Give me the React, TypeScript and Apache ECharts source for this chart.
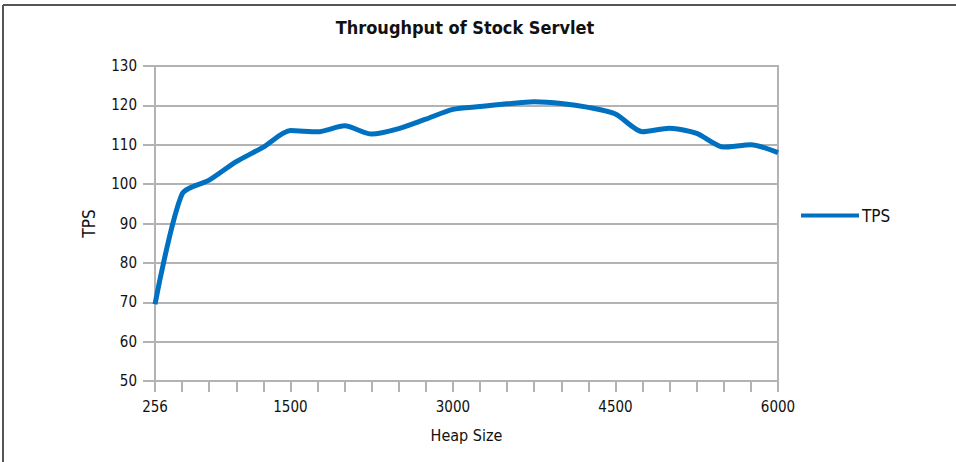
import React, { useEffect, useRef } from "react";
import * as echarts from "echarts";

const categories: string[] = [
  "256", "500", "750", "1000", "1250", "1500", "1750", "2000", "2250", "2500", "2750", "3000",
  "3250", "3500", "3750", "4000", "4250", "4500", "4750", "5000", "5250", "5500", "5750", "6000",
];
const tpsValues: number[] = [
  69.5, 97.5, 101, 105.7, 109.4, 113.6, 113.3, 114.8, 112.7, 114.1, 116.5, 119.0,
  119.7, 120.4, 120.9, 120.5, 119.5, 117.8, 113.3, 114.2, 112.9, 109.4, 110.0, 108.0,
];
const labeledIndices: number[] = [0, 5, 11, 17, 23];
const yTicks = { min: 50, max: 130, interval: 10 };

const FONT = "'DejaVu Sans Condensed', 'DejaVu Sans', sans-serif";
const GRAY = "#b3b3b3";

export default function App() {
  const ref = useRef<HTMLDivElement>(null);
  useEffect(() => {
    if (!ref.current) return;
    const chart = echarts.init(ref.current, null, { renderer: "svg" });
    chart.setOption({
      animation: false,
      backgroundColor: "#ffffff",
      textStyle: { fontFamily: FONT },
      title: {
        text: "Throughput of Stock Servlet",
        left: 460,
        textAlign: "center",
        top: 13,
        textStyle: { fontFamily: FONT, fontSize: 18, fontWeight: "bold", color: "#111" },
      },
      legend: {
        orient: "vertical",
        left: 796,
        top: 202,
        icon: "rect",
        itemWidth: 58,
        itemHeight: 4,
        textStyle: { fontFamily: FONT, fontSize: 17, color: "#111", padding: [0, 0, 0, -2] },
        data: ["TPS"],
      },
      graphic: [
        { type: "line", shape: { x1: 3, y1: 5, x2: 956, y2: 5 }, style: { stroke: "#555", lineWidth: 2 } },
        { type: "line", shape: { x1: 3, y1: 5, x2: 3, y2: 462 }, style: { stroke: "#555", lineWidth: 2 } },
      ],
      grid: {
        left: 155,
        right: 178,
        top: 66,
        bottom: 81,
        show: true,
        borderColor: GRAY,
        borderWidth: 2,
      },
      xAxis: {
        type: "category",
        data: categories,
        boundaryGap: false,
        name: "Heap Size",
        nameLocation: "middle",
        nameGap: 46,
        nameTextStyle: { fontFamily: FONT, fontSize: 16, color: "#111" },
        axisLine: { show: true, lineStyle: { color: GRAY, width: 2 } },
        axisTick: { show: true, interval: 0, length: 11, lineStyle: { color: GRAY, width: 2 } },
        axisLabel: {
          interval: (index: number) => labeledIndices.includes(index),
          margin: 18,
          fontFamily: FONT,
          fontSize: 15,
          color: "#111",
        },
        splitLine: { show: false },
      },
      yAxis: {
        type: "value",
        min: yTicks.min,
        max: yTicks.max,
        interval: yTicks.interval,
        name: "TPS",
        nameLocation: "middle",
        nameGap: 58,
        nameRotate: 90,
        nameTextStyle: { fontFamily: FONT, fontSize: 17, color: "#111" },
        axisLine: { show: true, lineStyle: { color: GRAY, width: 2 } },
        axisTick: { show: true, length: 12, lineStyle: { color: GRAY, width: 2 } },
        axisLabel: { margin: 18, fontFamily: FONT, fontSize: 15, color: "#111" },
        splitLine: { show: true, lineStyle: { color: GRAY, width: 2 } },
      },
      series: [
        {
          name: "TPS",
          type: "line",
          data: tpsValues,
          smooth: 0.25,
          showSymbol: false,
          symbol: "none",
          lineStyle: { color: "#0070c0", width: 5 },
          itemStyle: { color: "#0070c0" },
        },
      ],
    });
    return () => chart.dispose();
  }, []);
  return (
    <div
      ref={ref}
      style={{ position: "fixed", left: 0, top: 0, width: 956, height: 462 }}
    />
  );
}
